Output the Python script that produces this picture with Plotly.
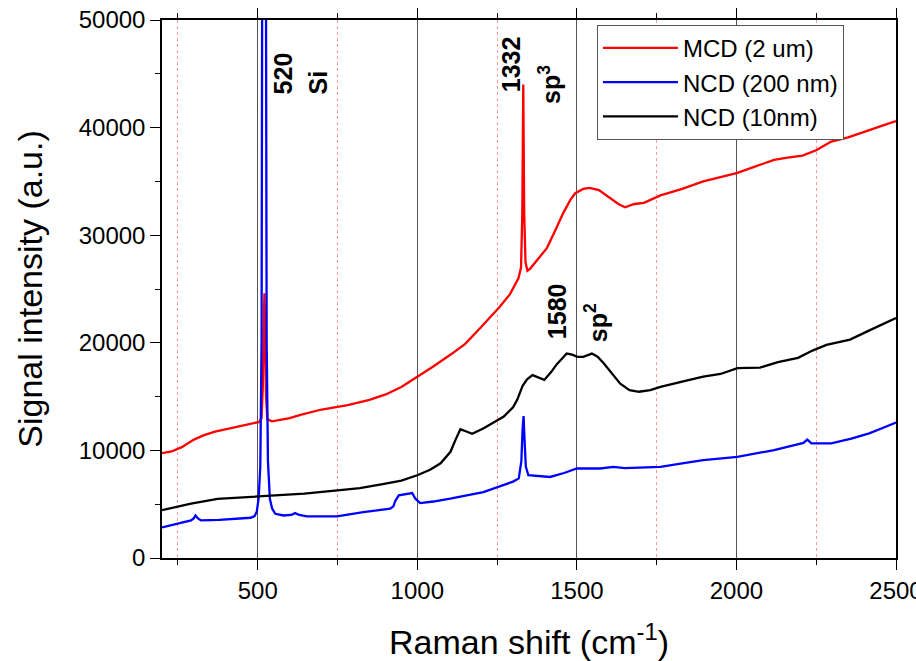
import plotly.graph_objects as go

# ---------------- data ----------------
mcd_x = [200, 230, 262, 300, 330, 366, 420, 485, 505, 512, 516, 519, 521, 523, 526, 530, 545, 600, 634, 700,
         782, 850, 901, 950, 998, 1050, 1109, 1150, 1198, 1257, 1290, 1317, 1325, 1329, 1332, 1335, 1339, 1345,
         1354, 1380, 1406, 1430, 1458, 1480, 1495, 1520, 1540, 1569, 1600, 1630, 1651, 1680, 1710, 1762, 1830,
         1896, 1950, 2003, 2060, 2118, 2160, 2207, 2250, 2297, 2350, 2416, 2460, 2500]
mcd_y = [9750, 9900, 10300, 11000, 11400, 11750, 12100, 12500, 12650, 13000, 16000, 22000, 24600, 21000, 15000,
         12900, 12700, 13000, 13300, 13800, 14200, 14700, 15200, 15900, 16800, 17800, 19000, 19900, 21400, 23300,
         24500, 26000, 27000, 32000, 44000, 32000, 27500, 26700, 26900, 27900, 28800, 30300, 32100, 33300, 33900,
         34300, 34400, 34200, 33500, 32900, 32600, 32900, 33000, 33700, 34300, 35000, 35400, 35800, 36400, 37000,
         37200, 37400, 37900, 38700, 39100, 39800, 40200, 40600]

ncd200_x = [200, 249, 291, 300, 305, 312, 322, 380, 436, 478, 490, 497, 503, 508, 512, 514, 520, 526, 528, 532,
            538, 545, 555, 581, 605, 617, 630, 654, 748, 831, 915, 925, 931, 942, 965, 984, 994, 1009, 1050, 1103,
            1207, 1270, 1300, 1318, 1326, 1330, 1333, 1336, 1340, 1348, 1416, 1460, 1500, 1573, 1614, 1650, 1762,
            1830, 1896, 2003, 2118, 2210, 2222, 2235, 2297, 2360, 2416, 2460, 2500]
ncd200_y = [2850, 3230, 3490, 3700, 3950, 3700, 3500, 3550, 3640, 3740, 3900, 4300, 5600, 8500, 20000, 50000,
            160000, 50000, 20000, 9000, 5500, 4600, 4110, 3950, 4000, 4170, 4000, 3860, 3860, 4260, 4580, 4800,
            5300, 5820, 5950, 6040, 5510, 5100, 5250, 5510, 6130, 6760, 7100, 7400, 9000, 12000, 13200, 11000,
            8500, 7690, 7530, 7900, 8320, 8320, 8470, 8350, 8470, 8800, 9090, 9400, 10030, 10700, 11000, 10650,
            10650, 11100, 11590, 12100, 12590]

ncd10_x = [200, 250, 291, 374, 450, 500, 646, 750, 820, 896, 950, 1000, 1040, 1073, 1104, 1120, 1135, 1150, 1172,
           1208, 1240, 1271, 1300, 1313, 1330, 1344, 1361, 1380, 1398, 1420, 1436, 1468, 1485, 1502, 1520, 1547,
           1565, 1584, 1610, 1636, 1665, 1695, 1730, 1762, 1830, 1896, 1950, 2003, 2074, 2130, 2193, 2240, 2282,
           2356, 2420, 2500]
ncd10_y = [4450, 4800, 5050, 5500, 5650, 5730, 5980, 6290, 6500, 6900, 7200, 7690, 8200, 8800, 9870, 11000, 11960,
           11800, 11550, 12050, 12600, 13140, 14000, 14700, 16000, 16600, 17000, 16800, 16550, 17300, 17970, 19000,
           18900, 18700, 18700, 19000, 18700, 18100, 17100, 16200, 15600, 15450, 15600, 15900, 16400, 16850, 17100,
           17650, 17700, 18200, 18600, 19300, 19800, 20300, 21200, 22300]

series_names = ["MCD (2 um)", "NCD (200 nm)", "NCD (10nm)"]
series_colors = ["#ff0000", "#0000ff", "#000000"]

peak_labels = ["520", "Si", "1332", "sp<sup>3</sup>", "1580", "sp<sup>2</sup>"]
peak_label_x = [578, 689, 1294, 1414, 1438, 1561]
peak_label_y = [45000, 44200, 45900, 44000, 22950, 21850]

FONT = "Liberation Sans, Arial, sans-serif"

fig = go.Figure()
for xs, ys, name, col in [(mcd_x, mcd_y, series_names[0], series_colors[0]),
                          (ncd200_x, ncd200_y, series_names[1], series_colors[1]),
                          (ncd10_x, ncd10_y, series_names[2], series_colors[2])]:
    fig.add_trace(go.Scatter(x=xs, y=ys, mode="lines", name=name,
                             line=dict(color=col, width=2.3)))

for t, x, y in zip(peak_labels, peak_label_x, peak_label_y):
    fig.add_annotation(x=x, y=y, xref="x", yref="y", text="<b>" + t + "</b>", textangle=-90,
                       showarrow=False, font=dict(family=FONT, size=25, color="black"))

fig.update_layout(
    width=916, height=661,
    margin=dict(l=162, r=20, t=20, b=103),
    paper_bgcolor="white", plot_bgcolor="white",
    font=dict(family=FONT, size=24, color="black"),
    showlegend=True,
    legend=dict(x=0.5926, y=0.991, xanchor="left", yanchor="top",
                bgcolor="white", bordercolor="#555555", borderwidth=1,
                font=dict(family=FONT, size=24, color="black"),
                tracegroupgap=0, itemwidth=75),
    xaxis=dict(range=[200, 2500], tick0=0, dtick=500, ticks="outside", ticklen=10, tickwidth=1.3,
               tickcolor="black", showline=True, linecolor="black", linewidth=1.5, mirror="allticks",
               showgrid=True, gridcolor="#555555", gridwidth=1, zeroline=False, automargin=False,
               tickfont=dict(size=24), ticklabeloverflow="allow",
               minor=dict(dtick=250, tick0=0, ticks="outside", ticklen=5, tickcolor="black", tickwidth=1.3,
                          showgrid=True, gridcolor="rgba(255,0,0,0.4)", griddash="dot", gridwidth=1),
               title=dict(text="Raman shift (cm<sup>-1</sup>)", font=dict(size=34), standoff=28)),
    yaxis=dict(range=[0, 50000], tick0=0, dtick=10000, ticks="outside", ticklen=10, tickwidth=1.3,
               tickcolor="black", showline=True, linecolor="black", linewidth=1.5, mirror=True,
               showgrid=False, zeroline=False, tickfont=dict(size=24), tickformat="d", automargin=False,
               minor=dict(dtick=5000, ticks="outside", ticklen=5, tickcolor="black", tickwidth=1.3,
                          showgrid=False),
               title=dict(text="Signal intensity (a.u.)", font=dict(size=34), standoff=26)),
)

fig.write_html("out.html")
